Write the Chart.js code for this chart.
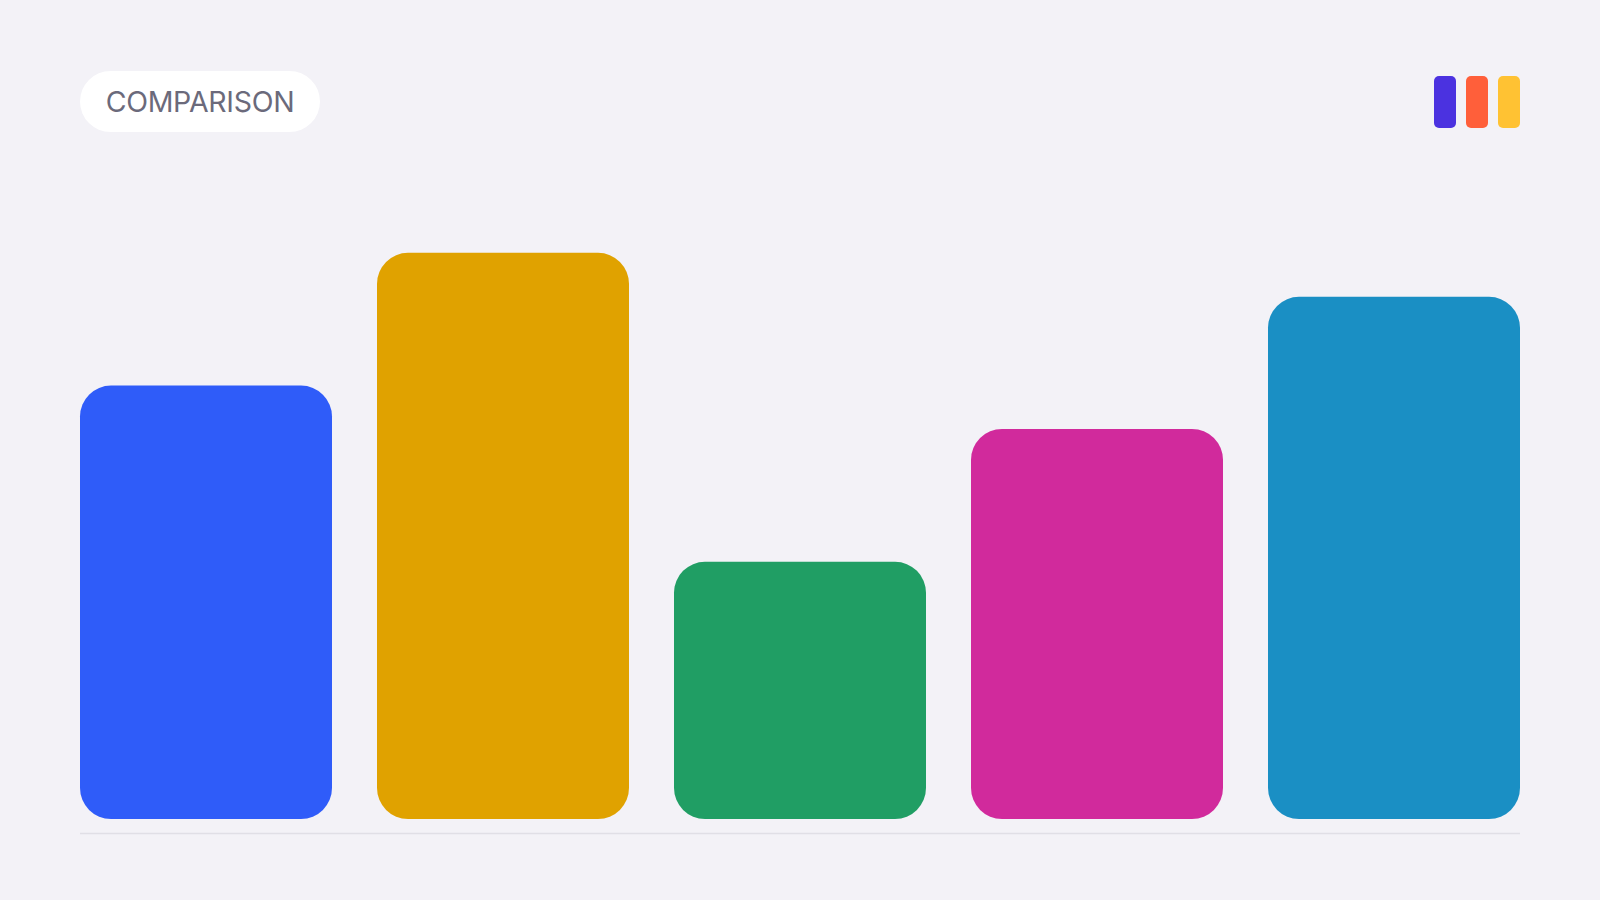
<!DOCTYPE html>
<html>
<head>
<meta charset="utf-8">
<script src="https://cdn.jsdelivr.net/npm/chart.js@4/dist/chart.umd.min.js"></script>
<style>
  html, body { margin: 0; padding: 0; background: #f3f2f7; }
  body { width: 1600px; height: 900px; position: relative; overflow: hidden; font-family: Inter, "Noto Sans", sans-serif; }
  #chart { position: absolute; left: 0; top: 0; }
  .pill {
    position: absolute; left: 80px; top: 71px; width: 240px; height: 61px;
    background: #ffffff; border-radius: 31px;
    display: flex; align-items: center; justify-content: center;
    color: #6b6a7b; font-size: 28.5px; letter-spacing: -0.3px;
  }
  .icon { position: absolute; top: 76px; width: 22px; height: 52px; border-radius: 5px; }
</style>
</head>
<body>
<canvas id="chart" width="1600" height="900"></canvas>
<div class="pill">COMPARISON</div>
<div class="icon" style="left:1434px;background:#4b32e0"></div>
<div class="icon" style="left:1466px;background:#ff5f3a"></div>
<div class="icon" style="left:1498px;background:#ffc233"></div>
<script>
// values (no axis shown, scale 0-100)
const categories = ['A', 'B', 'C', 'D', 'E'];
const values = [62, 81, 36.8, 55.8, 74.7];
const barColors = ['#2f5cf9', '#e0a200', '#209e64', '#d12a9c', '#1a8fc4'];

// thin line under the bars, from first bar to last bar
const baseline = {
  id: 'baseline',
  afterDraw(chart) {
    const bars = chart.getDatasetMeta(0).data;
    const first = bars[0], last = bars[bars.length - 1];
    const ctx = chart.ctx;
    const y = chart.chartArea.bottom + 14.5;
    ctx.save();
    ctx.strokeStyle = '#e0dfe6';
    ctx.lineWidth = 1.5;
    ctx.beginPath();
    ctx.moveTo(first.x - first.width / 2, y);
    ctx.lineTo(last.x + last.width / 2, y);
    ctx.stroke();
    ctx.restore();
  }
};

const ctx = document.getElementById('chart').getContext('2d');
new Chart(ctx, {
  type: 'bar',
  data: {
    labels: categories,
    datasets: [{
      data: values,
      backgroundColor: barColors,
      borderRadius: 31,
      borderSkipped: false,
      barPercentage: 252 / 297,
      categoryPercentage: 1
    }]
  },
  options: {
    responsive: false,
    animation: false,
    devicePixelRatio: 1,
    layout: { padding: { left: 57.5, right: 57.5, top: 120, bottom: 81 } },
    plugins: {
      legend: { display: false },
      tooltip: { enabled: false }
    },
    scales: {
      x: { display: false },
      y: { display: false, min: 0, max: 100 }
    }
  },
  plugins: [baseline]
});
</script>
</body>
</html>
